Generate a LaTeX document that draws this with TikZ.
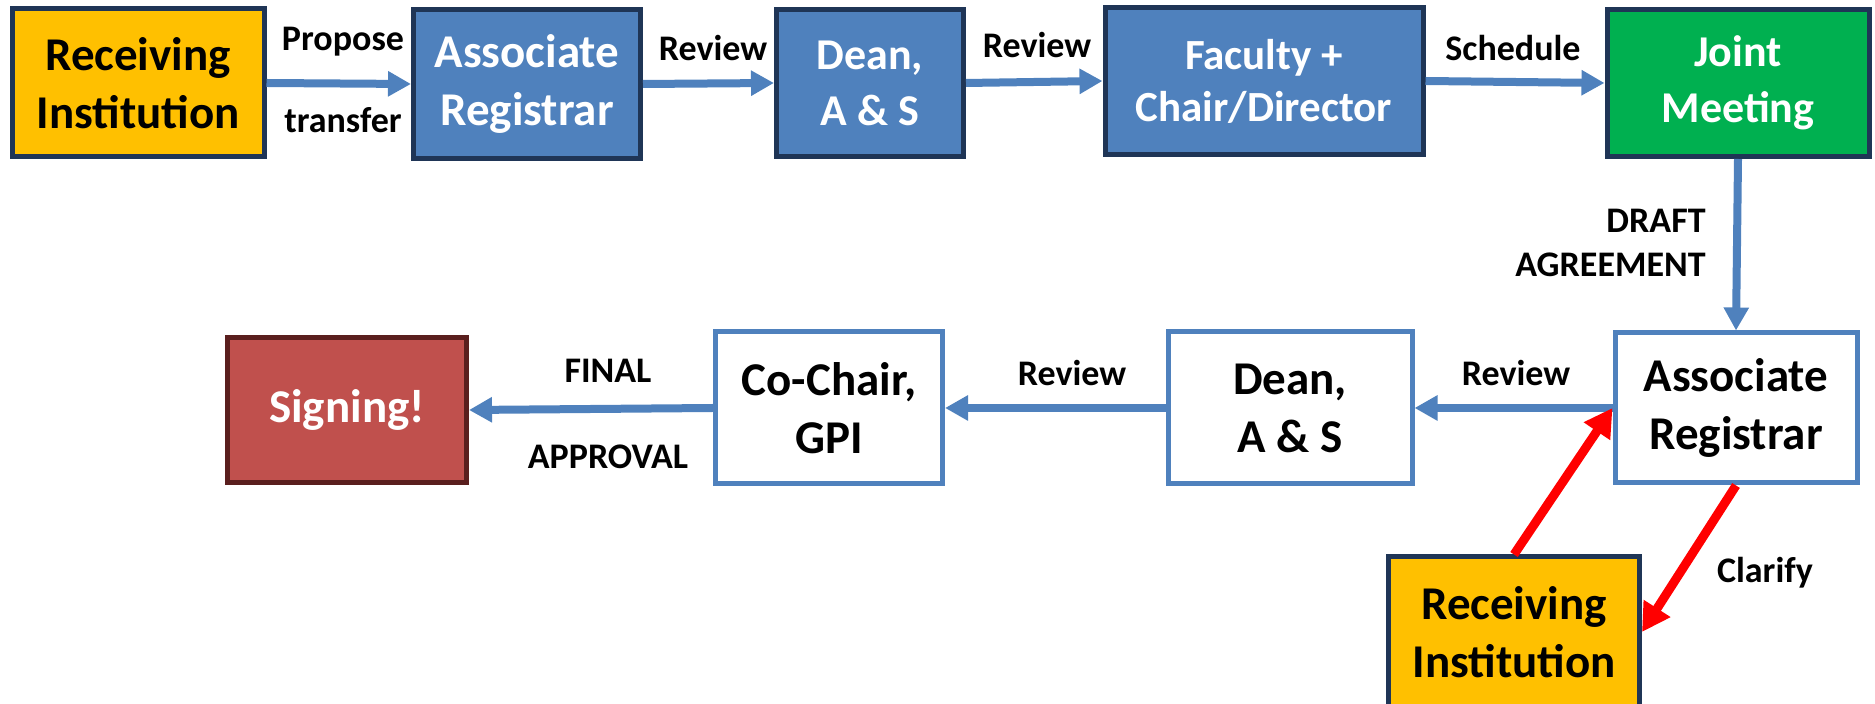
\documentclass[tikz,border=0pt]{standalone}
\usepackage{fontspec}
\setmainfont{Carlito}
\usetikzlibrary{arrows.meta}
\definecolor{instorange}{HTML}{FFC000}
\definecolor{officeblue}{HTML}{4F81BD}
\definecolor{darknavy}{HTML}{1F3556}
\definecolor{meetgreen}{HTML}{00B050}
\definecolor{signred}{HTML}{C0504D}
\definecolor{darkred}{HTML}{5A1F1E}
\begin{document}
\begin{tikzpicture}[x=0.5pt, y=-0.5pt,
  box/.style={line width=2.5pt, align=center, inner sep=0pt,
    font=\bfseries\fontsize{23.5}{29}\selectfont},
  orangebox/.style={box, draw=darknavy, fill=instorange, text=black},
  bluebox/.style={box, draw=darknavy, fill=officeblue, text=white},
  whitebox/.style={box, draw=officeblue, fill=white, text=black},
  lbl/.style={font=\bfseries\fontsize{18}{22}\selectfont, inner sep=0pt},
  flow/.style={draw=officeblue, line width=4pt, -{Triangle[length=11.5pt, width=12pt]}},
  back/.style={draw=red, line width=4.5pt, -{Triangle[length=14pt, width=15pt]}}]
  \useasboundingbox (0,0) rectangle (1875,704);
  % top row
  \node[orangebox, minimum width=126pt, minimum height=74pt] (recv1) at (138, 83) {Receiving\\Institution};
  \node[bluebox, minimum width=113.5pt, minimum height=74.5pt] (areg1) at (527, 84) {Associate\\Registrar};
  \node[bluebox, minimum width=93.5pt, minimum height=73.5pt, font=\bfseries\fontsize{22}{28}\selectfont] (dean1) at (870, 83) {Dean,\\A \& S};
  \node[bluebox, minimum width=159pt, minimum height=73.5pt, font=\bfseries\fontsize{21.5}{26}\selectfont] (fac) at (1264, 81) {Faculty +\\Chair/Director};
  \node[bluebox, fill=meetgreen, minimum width=131pt, minimum height=73.5pt, font=\bfseries\fontsize{22}{28}\selectfont] (joint) at (1738, 83) {Joint\\Meeting};
  % bottom row
  \node[whitebox, minimum width=121pt, minimum height=75pt] (areg2) at (1736, 408) {Associate\\Registrar};
  \node[whitebox, minimum width=122pt, minimum height=76pt] (dean2) at (1290, 408) {Dean,\\A \& S};
  \node[whitebox, minimum width=113.5pt, minimum height=76pt] (cochair) at (829, 408) {Co-Chair,\\GPI};
  \node[box, draw=darkred, fill=signred, text=white, minimum width=119.5pt, minimum height=72.5pt] (sign) at (347, 410) {Signing!};
  \node[orangebox, minimum width=125.5pt, minimum height=75pt] (recv2) at (1514, 632) {Receiving\\Institution};
  % labels
  \node[lbl] (lpropose) at (343, 42) {Propose};
  \node[lbl] (ltransfer) at (343, 120) {transfer};
  \node[lbl] (lreview1) at (713, 48) {Review};
  \node[lbl] (lreview2) at (1037, 45) {Review};
  \node[lbl] (lschedule) at (1513, 48) {Schedule};
  \node[lbl, align=right, anchor=east] (ldraft) at (1706, 243) {DRAFT\\AGREEMENT};
  \node[lbl] (lreview3) at (1516, 373) {Review};
  \node[lbl] (lreview4) at (1072, 373) {Review};
  \node[lbl] (lfinal) at (608, 371) {FINAL};
  \node[lbl] (lapproval) at (608, 457) {APPROVAL};
  \node[lbl] (lclarify) at (1765, 573) {Clarify};
  % arrows
  \draw[flow] (recv1.east) -- (areg1.west);
  \draw[flow] (areg1.east) -- (dean1.west);
  \draw[flow] (dean1.east) -- (fac.west);
  \draw[flow] (fac.east) -- (joint.west);
  \draw[flow] (joint.south) -- (areg2.north);
  \draw[flow] (areg2.west) -- (dean2.east);
  \draw[flow] (dean2.west) -- (cochair.east);
  \draw[flow] (cochair.west) -- (sign.east);
  \draw[back] (recv2.north) -- (areg2.west);
  \draw[back] (areg2.south) -- (recv2.east);
\end{tikzpicture}
\end{document}
